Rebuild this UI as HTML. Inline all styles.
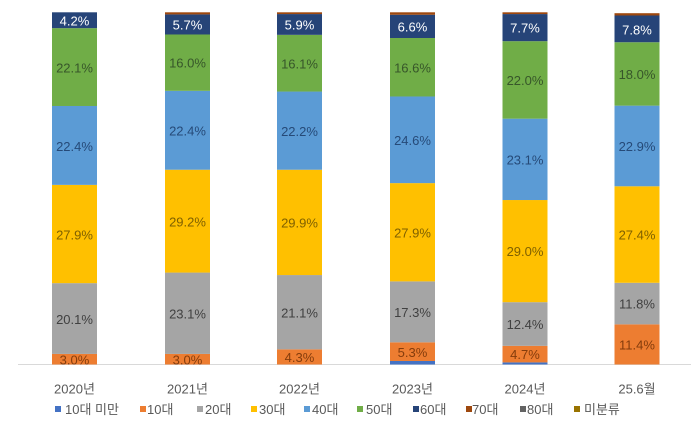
<!DOCTYPE html>
<html>
<head>
<meta charset="utf-8">
<style>
  html,body{margin:0;padding:0;background:#fff;}
  svg{display:block;}
  text{font-family:"Liberation Sans","Noto Sans CJK KR",sans-serif;}
  .lbl{font-size:13px;text-anchor:middle;dominant-baseline:central;}
  .cat{font-size:13px;fill:#595959;text-anchor:middle;dominant-baseline:central;}
  .leg{font-size:13px;fill:#595959;dominant-baseline:central;}
</style>
</head>
<body>
<svg width="691" height="424" viewBox="0 0 691 424" xmlns="http://www.w3.org/2000/svg">
  <rect width="691" height="424" fill="#fff"/>
  <line x1="18" y1="364.5" x2="691" y2="364.5" stroke="#d9d9d9" stroke-width="1"/>

  <!-- Bar 1: 2020 -->
  <g>
    <rect x="52" y="353.93" width="45" height="10.57" fill="#ED7D31"/>
    <rect x="52" y="283.14" width="45" height="70.79" fill="#A5A5A5"/>
    <rect x="52" y="184.88" width="45" height="98.26" fill="#FFC000"/>
    <rect x="52" y="105.99" width="45" height="78.89" fill="#5B9BD5"/>
    <rect x="52" y="28.15" width="45" height="77.84" fill="#70AD47"/>
    <rect x="52" y="12.3" width="45" height="15.85" fill="#264478"/>
    <text class="lbl" x="74.5" y="360" fill="#843c0c">3.0%</text>
    <text class="lbl" x="74.5" y="319.5" fill="#404040">20.1%</text>
    <text class="lbl" x="74.5" y="235" fill="#7f6000">27.9%</text>
    <text class="lbl" x="74.5" y="146.5" fill="#264a78">22.4%</text>
    <text class="lbl" x="74.5" y="68" fill="#37562a">22.1%</text>
    <text class="lbl" x="74.5" y="21" fill="#ffffff">4.2%</text>
  </g>

  <!-- Bar 2: 2021 -->
  <g>
    <rect x="165" y="353.93" width="45" height="10.57" fill="#ED7D31"/>
    <rect x="165" y="272.57" width="45" height="81.36" fill="#A5A5A5"/>
    <rect x="165" y="169.73" width="45" height="102.84" fill="#FFC000"/>
    <rect x="165" y="90.84" width="45" height="78.89" fill="#5B9BD5"/>
    <rect x="165" y="34.49" width="45" height="56.35" fill="#70AD47"/>
    <rect x="165" y="14.41" width="45" height="20.08" fill="#264478"/>
    <rect x="165" y="12.3" width="45" height="2.11" fill="#9E480E"/>
    <text class="lbl" x="187.5" y="360" fill="#843c0c">3.0%</text>
    <text class="lbl" x="187.5" y="314" fill="#404040">23.1%</text>
    <text class="lbl" x="187.5" y="222" fill="#7f6000">29.2%</text>
    <text class="lbl" x="187.5" y="131" fill="#264a78">22.4%</text>
    <text class="lbl" x="187.5" y="63" fill="#37562a">16.0%</text>
    <text class="lbl" x="187.5" y="25" fill="#ffffff">5.7%</text>
  </g>

  <!-- Bar 3: 2022 -->
  <g>
    <rect x="277" y="349.36" width="45" height="15.14" fill="#ED7D31"/>
    <rect x="277" y="275.05" width="45" height="74.31" fill="#A5A5A5"/>
    <rect x="277" y="169.74" width="45" height="105.31" fill="#FFC000"/>
    <rect x="277" y="91.55" width="45" height="78.19" fill="#5B9BD5"/>
    <rect x="277" y="34.85" width="45" height="56.70" fill="#70AD47"/>
    <rect x="277" y="14.07" width="45" height="20.78" fill="#264478"/>
    <rect x="277" y="12.3" width="45" height="1.77" fill="#9E480E"/>
    <text class="lbl" x="299.5" y="357.5" fill="#843c0c">4.3%</text>
    <text class="lbl" x="299.5" y="313" fill="#404040">21.1%</text>
    <text class="lbl" x="299.5" y="223" fill="#7f6000">29.9%</text>
    <text class="lbl" x="299.5" y="131.5" fill="#264a78">22.2%</text>
    <text class="lbl" x="299.5" y="64" fill="#37562a">16.1%</text>
    <text class="lbl" x="299.5" y="25" fill="#ffffff">5.9%</text>
  </g>

  <!-- Bar 4: 2023 -->
  <g>
    <rect x="390" y="360.98" width="45" height="3.52" fill="#4472C4"/>
    <rect x="390" y="342.31" width="45" height="18.67" fill="#ED7D31"/>
    <rect x="390" y="281.38" width="45" height="60.93" fill="#A5A5A5"/>
    <rect x="390" y="183.12" width="45" height="98.26" fill="#FFC000"/>
    <rect x="390" y="96.48" width="45" height="86.64" fill="#5B9BD5"/>
    <rect x="390" y="38.01" width="45" height="58.47" fill="#70AD47"/>
    <rect x="390" y="14.76" width="45" height="23.25" fill="#264478"/>
    <rect x="390" y="12.3" width="45" height="2.46" fill="#9E480E"/>
    <text class="lbl" x="412.5" y="352.5" fill="#843c0c">5.3%</text>
    <text class="lbl" x="412.5" y="312.5" fill="#404040">17.3%</text>
    <text class="lbl" x="412.5" y="233" fill="#7f6000">27.9%</text>
    <text class="lbl" x="412.5" y="140.5" fill="#264a78">24.6%</text>
    <text class="lbl" x="412.5" y="68" fill="#37562a">16.6%</text>
    <text class="lbl" x="412.5" y="27" fill="#ffffff">6.6%</text>
  </g>

  <!-- Bar 5: 2024 -->
  <g>
    <rect x="502.5" y="362.39" width="45" height="2.11" fill="#4472C4"/>
    <rect x="502.5" y="345.84" width="45" height="16.55" fill="#ED7D31"/>
    <rect x="502.5" y="302.17" width="45" height="43.67" fill="#A5A5A5"/>
    <rect x="502.5" y="200.03" width="45" height="102.14" fill="#FFC000"/>
    <rect x="502.5" y="118.67" width="45" height="81.36" fill="#5B9BD5"/>
    <rect x="502.5" y="41.19" width="45" height="77.48" fill="#70AD47"/>
    <rect x="502.5" y="14.07" width="45" height="27.12" fill="#264478"/>
    <rect x="502.5" y="12.3" width="45" height="1.77" fill="#9E480E"/>
    <text class="lbl" x="525" y="354.5" fill="#843c0c">4.7%</text>
    <text class="lbl" x="525" y="324.5" fill="#404040">12.4%</text>
    <text class="lbl" x="525" y="251.5" fill="#7f6000">29.0%</text>
    <text class="lbl" x="525" y="160" fill="#264a78">23.1%</text>
    <text class="lbl" x="525" y="80.5" fill="#37562a">22.0%</text>
    <text class="lbl" x="525" y="28" fill="#ffffff">7.7%</text>
  </g>

  <!-- Bar 6: 25.6 -->
  <g>
    <rect x="614.5" y="324.35" width="45" height="40.15" fill="#ED7D31"/>
    <rect x="614.5" y="282.79" width="45" height="41.56" fill="#A5A5A5"/>
    <rect x="614.5" y="186.29" width="45" height="96.50" fill="#FFC000"/>
    <rect x="614.5" y="105.64" width="45" height="80.65" fill="#5B9BD5"/>
    <rect x="614.5" y="42.24" width="45" height="63.40" fill="#70AD47"/>
    <rect x="614.5" y="15.5" width="45" height="26.74" fill="#264478"/>
    <rect x="614.5" y="13.2" width="45" height="2.3" fill="#9E480E"/>
    <text class="lbl" x="637" y="345" fill="#843c0c">11.4%</text>
    <text class="lbl" x="637" y="304" fill="#404040">11.8%</text>
    <text class="lbl" x="637" y="235" fill="#7f6000">27.4%</text>
    <text class="lbl" x="637" y="146.5" fill="#264a78">22.9%</text>
    <text class="lbl" x="637" y="74.5" fill="#37562a">18.0%</text>
    <text class="lbl" x="637" y="30" fill="#ffffff">7.8%</text>
  </g>

  <!-- Category labels -->
  <text class="cat" x="74.5" y="389">2020년</text>
  <text class="cat" x="187.5" y="389">2021년</text>
  <text class="cat" x="299.5" y="389">2022년</text>
  <text class="cat" x="412.5" y="389">2023년</text>
  <text class="cat" x="525" y="389">2024년</text>
  <text class="cat" x="637" y="389">25.6월</text>

  <!-- Legend -->
  <rect x="55" y="406" width="6" height="6" fill="#4472C4"/>
  <text class="leg" x="65" y="409.5">10대 미만</text>
  <rect x="140" y="406" width="6" height="6" fill="#ED7D31"/>
  <text class="leg" x="147" y="409.5">10대</text>
  <rect x="197" y="406" width="6" height="6" fill="#A5A5A5"/>
  <text class="leg" x="205" y="409.5">20대</text>
  <rect x="251" y="406" width="6" height="6" fill="#FFC000"/>
  <text class="leg" x="259" y="409.5">30대</text>
  <rect x="304" y="406" width="6" height="6" fill="#5B9BD5"/>
  <text class="leg" x="312" y="409.5">40대</text>
  <rect x="357" y="406" width="6" height="6" fill="#70AD47"/>
  <text class="leg" x="366" y="409.5">50대</text>
  <rect x="413" y="406" width="6" height="6" fill="#264478"/>
  <text class="leg" x="420" y="409.5">60대</text>
  <rect x="466" y="406" width="6" height="6" fill="#9E480E"/>
  <text class="leg" x="472" y="409.5">70대</text>
  <rect x="520" y="406" width="6" height="6" fill="#636363"/>
  <text class="leg" x="527" y="409.5">80대</text>
  <rect x="574" y="406" width="6" height="6" fill="#997300"/>
  <text class="leg" x="584" y="409.5">미분류</text>
</svg>
</body>
</html>
